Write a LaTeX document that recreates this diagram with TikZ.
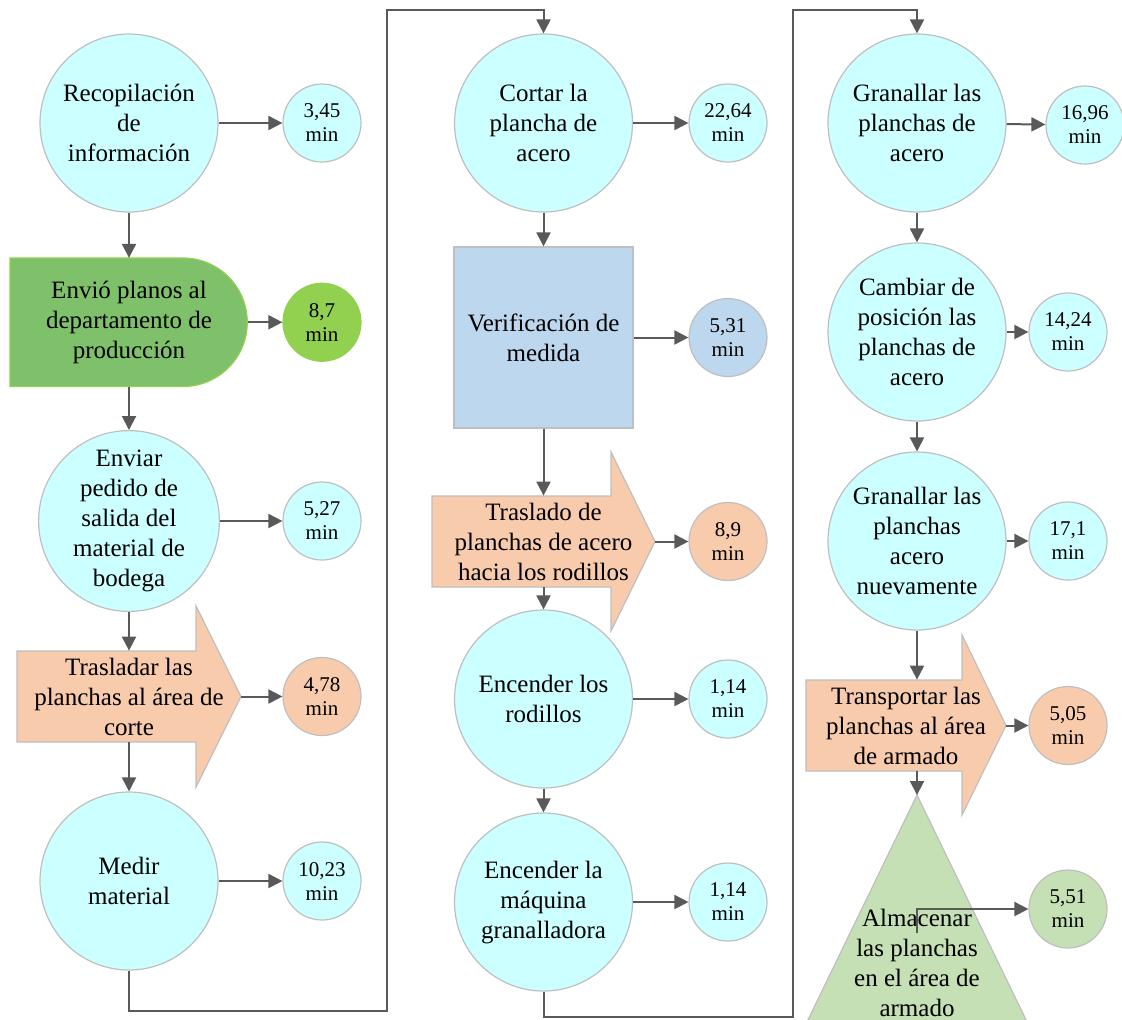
\documentclass[tikz,border=0pt]{standalone}
\usepackage{fontspec}
\setmainfont{Liberation Serif}
\usetikzlibrary{arrows.meta}

\definecolor{cyanfill}{HTML}{CCFFFF}
\definecolor{edgegray}{HTML}{BFBFBF}
\definecolor{linegray}{HTML}{595959}
\definecolor{peach}{HTML}{F8CBAD}
\definecolor{bluefill}{HTML}{BDD7EE}
\definecolor{darkgreen}{HTML}{7FC06A}
\definecolor{limegreen}{HTML}{92D050}
\definecolor{palegreen}{HTML}{C5E0B4}

\begin{document}
\begin{tikzpicture}[x=0.5pt, y=-0.5pt,
    proc/.style={circle, draw=edgegray, line width=0.6pt, fill=cyanfill, minimum size=89pt,
        inner sep=0pt, align=center, font=\fontsize{12.5}{15}\selectfont},
    tiempo/.style={circle, draw=edgegray, line width=0.6pt, fill=cyanfill, minimum size=39pt,
        inner sep=0pt, align=center, font=\fontsize{10.5}{12}\selectfont},
    caja/.style={rectangle, inner sep=0pt, align=center, font=\fontsize{12.5}{15}\selectfont},
    flecha/.style={draw=edgegray, line width=0.6pt, fill=peach},
    flow/.style={draw=linegray, line width=1pt, -{Triangle[length=7pt,width=7pt]}}]

    \useasboundingbox (0,0) rectangle (1122,1019);
    \clip (0,0) rectangle (1122,1019);

    % Shapes drawn behind the text boxes
    \draw[draw=limegreen, line width=0.6pt, fill=darkgreen] (10,258) -- (183,258)
        arc[start angle=-90, end angle=90, radius=64.25] -- (10,386.5) -- cycle;
    \draw[flecha] (17,651) -- (196,651) -- (196,606) -- (241,696.5) -- (196,787) -- (196,742) -- (17,742) -- cycle;
    \draw[flecha] (432,496) -- (611,496) -- (611,452) -- (655,541.5) -- (611,631) -- (611,587) -- (432,587) -- cycle;
    \draw[flecha] (806,680) -- (962,680) -- (962,635) -- (1006,725.5) -- (962,815) -- (962,771) -- (806,771) -- cycle;
    \draw[draw=edgegray, line width=0.6pt, fill=palegreen] (917,795) -- (1030,1028) -- (804,1028) -- cycle;
    \coordinate (apex) at (917,795);

    % First column
    \node[proc] (c1) at (129,123) {Recopilación\\de\\información};
    \node[tiempo] (s1) at (322,123) {3,45\\min};
    \node[caja, minimum width=119pt, minimum height=64pt] (d1) at (129,322.25)
        {Envió planos al\\departamento de\\producción};
    \node[tiempo, fill=limegreen, draw=limegreen] (s2) at (322,322.25) {8,7\\min};
    \node[proc] (c2) at (129,521) {Enviar\\pedido de\\salida del\\material de\\bodega};
    \node[tiempo] (s3) at (322,521) {5,27\\min};
    \node[caja, minimum width=112pt, minimum height=45.5pt] (t1) at (129,696.5)
        {Trasladar las\\planchas al área de\\corte};
    \node[tiempo, fill=peach] (s4) at (322,696.5) {4,78\\min};
    \node[proc] (c3) at (129,881) {Medir\\material};
    \node[tiempo] (s5) at (322,881) {10,23\\min};

    % Second column
    \node[proc] (c4) at (543.5,123) {Cortar la\\plancha de\\acero};
    \node[tiempo] (s6) at (728,123) {22,64\\min};
    \node[caja, draw=edgegray, line width=0.6pt, fill=bluefill, minimum width=89.5pt,
        minimum height=90.5pt] (r1) at (543.5,337.5) {Verificación de\\medida};
    \node[tiempo, fill=bluefill] (s7) at (728,337.5) {5,31\\min};
    \node[caja, minimum width=111.5pt, minimum height=45.5pt] (t2) at (543.5,541.5)
        {Traslado de\\planchas de acero\\hacia los rodillos};
    \node[tiempo, fill=peach] (s8) at (728,541.5) {8,9\\min};
    \node[proc] (c5) at (543.5,699) {Encender los\\rodillos};
    \node[tiempo] (s9) at (728,699) {1,14\\min};
    \node[proc] (c6) at (543.5,902) {Encender la\\máquina\\granalladora};
    \node[tiempo] (s10) at (728,902) {1,14\\min};

    % Third column
    \node[proc] (c7) at (917,123) {Granallar las\\planchas de\\acero};
    \node[tiempo] (s11) at (1085,125) {16,96\\min};
    \node[proc] (c8) at (917,332) {Cambiar de\\posición las\\planchas de\\acero};
    \node[tiempo] (s12) at (1068,332) {14,24\\min};
    \node[proc] (c9) at (917,541) {Granallar las\\planchas\\acero\\nuevamente};
    \node[tiempo] (s13) at (1068,541) {17,1\\min};
    \node[caja, minimum width=100pt, minimum height=45.5pt] (t3) at (906,725.5)
        {Transportar las\\planchas al área\\de armado};
    \node[tiempo, fill=peach] (s14) at (1068,725.5) {5,05\\min};
    \node[caja] (a1) at (917,963) {Almacenar\\las planchas\\en el área de\\armado};
    \node[tiempo, fill=palegreen] (s15) at (1068,909) {5,51\\min};
    \coordinate (a1in) at (917,933);

    % Times
    \draw[flow] (c1) -- (s1);
    \draw[flow] (d1) -- (s2);
    \draw[flow] (c2) -- (s3);
    \draw[flow] (t1.east) -- (s4);
    \draw[flow] (c3) -- (s5);
    \draw[flow] (c4) -- (s6);
    \draw[flow] (r1) -- (s7);
    \draw[flow] (t2.east) -- (s8);
    \draw[flow] (c5) -- (s9);
    \draw[flow] (c6) -- (s10);
    \draw[flow] (c7) -- (s11);
    \draw[flow] (c8) -- (s12);
    \draw[flow] (c9) -- (s13);
    \draw[flow] (t3.east) -- (s14);
    \draw[flow] (a1in) |- (s15);

    % Sequence
    \draw[flow] (c1) -- (d1);
    \draw[flow] (d1) -- (c2);
    \draw[flow] (c2) -- (t1);
    \draw[flow] (t1) -- (c3);
    \draw[flow] (c3.south) |- (387,1011) -- (387,10) -| (c4.north);
    \draw[flow] (c4) -- (r1);
    \draw[flow] (r1.south) -- (r1.south |- t2.north);
    \draw[flow] (t2) -- (c5);
    \draw[flow] (c5) -- (c6);
    \draw[flow] (c6.south) |- (793,1017) -- (793,10) -| (c7.north);
    \draw[flow] (c7) -- (c8);
    \draw[flow] (c8) -- (c9);
    \draw[flow] (c9.south) -- (c9.south |- t3.north);
    \draw[flow] (apex |- t3.south) -- (apex);
\end{tikzpicture}
\end{document}
